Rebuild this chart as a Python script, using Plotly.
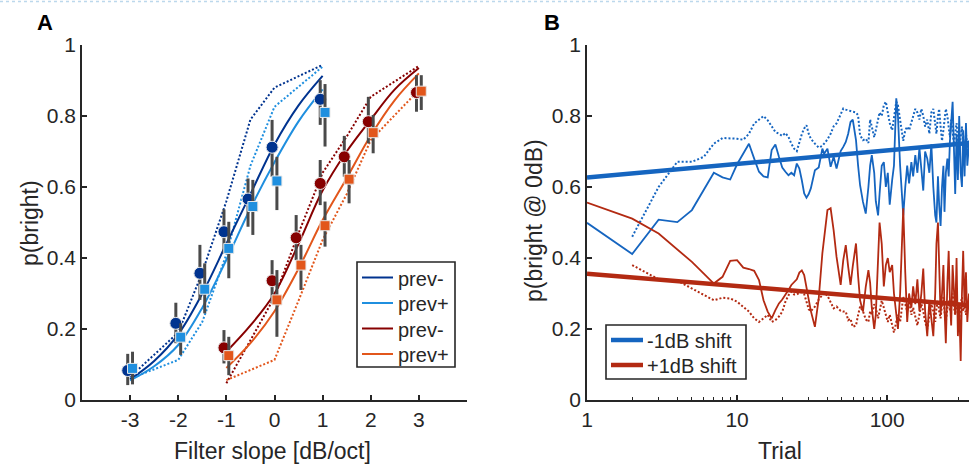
import plotly.graph_objects as go

# ---------------- Panel A data ----------------
slope_blue = [-3, -2, -1.5, -1, -0.5, 0, 1]
slope_red = [-1, 0, 0.5, 1, 1.5, 2, 3]

# observed proportions (markers) with error-bar limits
blue_prevm = [0.083, 0.216, 0.357, 0.474, 0.566, 0.712, 0.847]
blue_prevm_lo = [0.042, 0.160, 0.282, 0.413, 0.488, 0.629, 0.775]
blue_prevm_hi = [0.130, 0.274, 0.437, 0.537, 0.624, 0.789, 0.901]
blue_prevp = [0.089, 0.177, 0.312, 0.427, 0.545, 0.617, 0.810]
blue_prevp_lo = [0.044, 0.127, 0.244, 0.343, 0.465, 0.535, 0.714]
blue_prevp_hi = [0.136, 0.216, 0.385, 0.502, 0.620, 0.685, 0.890]
red_prevm = [0.147, 0.336, 0.457, 0.610, 0.685, 0.784, 0.866]
red_prevm_lo = [0.103, 0.272, 0.394, 0.549, 0.629, 0.723, 0.812]
red_prevm_hi = [0.197, 0.394, 0.521, 0.676, 0.744, 0.854, 0.915]
red_prevp = [0.125, 0.282, 0.380, 0.491, 0.622, 0.753, 0.870]
red_prevp_lo = [0.070, 0.178, 0.310, 0.432, 0.554, 0.695, 0.817]
red_prevp_hi = [0.178, 0.366, 0.437, 0.559, 0.676, 0.803, 0.915]

# fitted curves (solid)
fit_x_blue = [-3, -2.5, -2, -1.5, -1, -0.5, 0, 0.5, 1]
fit_blue_prevm = [0.058, 0.110, 0.185, 0.300, 0.440, 0.580, 0.720, 0.830, 0.913]
fit_blue_prevp = [0.055, 0.095, 0.155, 0.260, 0.395, 0.540, 0.670, 0.785, 0.875]
fit_x_red = [-1, -0.5, 0, 0.5, 1, 1.5, 2, 2.5, 3]
fit_red_prevm = [0.136, 0.210, 0.300, 0.440, 0.590, 0.700, 0.790, 0.875, 0.935]
fit_red_prevp = [0.090, 0.160, 0.250, 0.370, 0.507, 0.625, 0.745, 0.845, 0.920]

# model predictions (dotted)
pred_blue_prevm = [0.065, 0.190, 0.360, 0.560, 0.790, 0.880, 0.944]
pred_blue_prevp = [0.060, 0.113, 0.220, 0.410, 0.660, 0.826, 0.939]
pred_red_prevm = [0.047, 0.290, 0.470, 0.640, 0.742, 0.854, 0.941]
pred_red_prevp = [0.056, 0.113, 0.280, 0.451, 0.580, 0.732, 0.873]

legend_a_labels = ['prev-', 'prev+', 'prev-', 'prev+']

# ---------------- Panel B data ----------------
trial = (list(range(1, 20)) +
         [20, 21, 22, 23, 24, 25, 26, 27, 28, 29, 30, 31, 33, 35, 37, 38, 40, 42, 44, 46,
          49, 51, 53, 55, 57, 59, 62, 64, 66, 69, 72, 75] +
         [77, 79, 82, 84, 87, 89, 92, 95, 98, 101, 104, 108, 111, 115, 118, 122, 125, 128,
          132, 136, 140, 145, 149, 154, 159, 164, 169, 174, 179, 185, 191, 197, 203, 209,
          213, 218, 222, 227, 232, 237, 241, 246, 252, 257, 262, 267, 273, 279, 284, 290,
          296, 302, 309, 315, 321, 328, 335, 342, 351])

minus_obs = ([0.499, 0.411, 0.508, 0.501, 0.535, 0.591, 0.640, 0.627, 0.621, 0.664,
              0.694, 0.722, 0.680, 0.643, 0.630, 0.627, 0.704, 0.720, 0.685] +
             [0.655, 0.643, 0.633, 0.640, 0.633, 0.666, 0.652, 0.619, 0.582, 0.570, 0.580,
              0.596, 0.647, 0.655, 0.708, 0.694, 0.708, 0.657, 0.685, 0.652, 0.701, 0.713,
              0.727, 0.750, 0.783, 0.790, 0.732, 0.661, 0.605, 0.558, 0.525, 0.600] +
             [0.66, 0.69, 0.64, 0.56, 0.52, 0.58, 0.66, 0.67, 0.60, 0.64, 0.55, 0.62, 0.66,
              0.85, 0.80, 0.66, 0.59, 0.52, 0.60, 0.66, 0.61, 0.67, 0.63, 0.69, 0.64, 0.71,
              0.65, 0.59, 0.70, 0.68, 0.64, 0.72, 0.60, 0.52, 0.50, 0.63, 0.55, 0.49, 0.60,
              0.66, 0.53, 0.64, 0.68, 0.63, 0.73, 0.78, 0.84, 0.70, 0.58, 0.75, 0.62, 0.80,
              0.64, 0.60, 0.76, 0.63, 0.78, 0.66, 0.72])
minus_model = ([None, 0.46, 0.60, 0.671, 0.671, 0.685, 0.722, 0.738, 0.738, 0.736,
                0.733, 0.750, 0.779, 0.790, 0.800, 0.788, 0.769, 0.755, 0.750] +
               [0.744, 0.752, 0.741, 0.722, 0.708, 0.701, 0.727, 0.749, 0.765, 0.774, 0.750,
                0.736, 0.722, 0.711, 0.716, 0.722, 0.734, 0.750, 0.771, 0.779, 0.802, 0.821,
                0.818, 0.815, 0.814, 0.812, 0.810, 0.802, 0.746, 0.732, 0.736, 0.724] +
               [0.79, 0.77, 0.74, 0.76, 0.79, 0.81, 0.80, 0.83, 0.84, 0.81, 0.78, 0.76, 0.80,
                0.84, 0.83, 0.79, 0.75, 0.73, 0.76, 0.77, 0.76, 0.78, 0.80, 0.82, 0.81, 0.79,
                0.82, 0.80, 0.77, 0.79, 0.75, 0.81, 0.82, 0.78, 0.75, 0.80, 0.82, 0.77, 0.73,
                0.76, 0.79, 0.82, 0.80, 0.76, 0.74, 0.79, 0.76, 0.72, 0.75, 0.78, 0.73, 0.70,
                0.74, 0.77, 0.72, 0.69, 0.75, 0.71, 0.73])
plus_obs = ([0.556, 0.511, 0.469, 0.425, 0.389, 0.356, 0.328, 0.347, 0.392, 0.394,
             0.373, 0.369, 0.364, 0.338, 0.281, 0.249, 0.230, 0.253, 0.272] +
            [0.283, 0.296, 0.310, 0.324, 0.331, 0.340, 0.359, 0.365, 0.352, 0.319, 0.280,
             0.251, 0.206, 0.286, 0.413, 0.460, 0.535, 0.540, 0.478, 0.403, 0.324, 0.394,
             0.436, 0.375, 0.324, 0.377, 0.441, 0.350, 0.281, 0.249, 0.319, 0.366] +
            [0.33, 0.26, 0.20, 0.24, 0.40, 0.50, 0.44, 0.32, 0.38, 0.40, 0.36, 0.38, 0.30,
             0.23, 0.20, 0.30, 0.45, 0.54, 0.36, 0.22, 0.30, 0.26, 0.32, 0.27, 0.34, 0.25,
             0.30, 0.37, 0.25, 0.18, 0.28, 0.22, 0.18, 0.30, 0.44, 0.50, 0.36, 0.24, 0.30,
             0.38, 0.26, 0.16, 0.33, 0.42, 0.28, 0.21, 0.38, 0.31, 0.24, 0.40, 0.18, 0.27,
             0.11, 0.30, 0.42, 0.26, 0.36, 0.22, 0.30])
plus_model = ([None, 0.38, 0.34, 0.336, 0.314, 0.295, 0.281, 0.288, 0.286, 0.277,
               0.263, 0.249, 0.230, 0.220, 0.230, 0.240, 0.220, 0.225, 0.235] +
              [0.249, 0.277, 0.295, 0.305, 0.297, 0.297, 0.302, 0.304, 0.298, 0.277, 0.256,
               0.250, 0.263, 0.283, 0.295, 0.302, 0.294, 0.274, 0.258, 0.263, 0.251, 0.249,
               0.249, 0.225, 0.229, 0.206, 0.210, 0.239, 0.263, 0.250, 0.227, 0.220] +
              [0.25, 0.24, 0.27, 0.26, 0.23, 0.25, 0.28, 0.26, 0.24, 0.22, 0.24, 0.21, 0.19,
               0.22, 0.24, 0.22, 0.26, 0.29, 0.27, 0.25, 0.28, 0.24, 0.26, 0.23, 0.21, 0.24,
               0.27, 0.25, 0.22, 0.20, 0.24, 0.27, 0.25, 0.22, 0.26, 0.28, 0.25, 0.23, 0.27,
               0.29, 0.25, 0.22, 0.26, 0.28, 0.25, 0.27, 0.30, 0.26, 0.24, 0.28, 0.26, 0.23,
               0.27, 0.29, 0.25, 0.27, 0.24, 0.28, 0.26])

trend_trials = [1, 351]
trend_minus = [0.627, 0.724]
trend_plus = [0.356, 0.267]
legend_b_labels = ['-1dB shift', '+1dB shift']

# ---------------- styles ----------------
DB, LB, DR, OR = '#00338f', '#1f8fdf', '#870000', '#e2561b'
BB, BR = '#1565c0', '#b32a12'
AX = '#262626'
FONT = 'Liberation Sans, Arial, Helvetica, sans-serif'
W, H = 969, 464
TICK_FS, TITLE_FS, LEG_FS = 21, 23, 20

fig = go.Figure()

def dotted(x, y, c, xa='x', ya='y'):
    fig.add_trace(go.Scatter(x=x, y=y, mode='lines', xaxis=xa, yaxis=ya,
                             line=dict(color=c, width=2, dash='2px,2px'),
                             showlegend=False, hoverinfo='skip'))

# Panel A: dotted predictions
dotted(slope_blue, pred_blue_prevm, DB)
dotted(slope_blue, pred_blue_prevp, LB)
dotted(slope_red, pred_red_prevm, DR)
dotted(slope_red, pred_red_prevp, OR)

# Panel A: solid fits
for xs, ys, c, nm in [(fit_x_blue, fit_blue_prevm, DB, legend_a_labels[0]),
                      (fit_x_blue, fit_blue_prevp, LB, legend_a_labels[1]),
                      (fit_x_red, fit_red_prevm, DR, legend_a_labels[2]),
                      (fit_x_red, fit_red_prevp, OR, legend_a_labels[3])]:
    fig.add_trace(go.Scatter(x=xs, y=ys, mode='lines', name=nm, showlegend=False,
                             line=dict(color=c, width=2, shape='spline', smoothing=1.0)))

# Panel A: observed points with error bars
OFF = 0.05
for xs, ys, lo, hi, c, sym, sz, off in [
        (slope_blue, blue_prevm, blue_prevm_lo, blue_prevm_hi, DB, 'circle', 12, -OFF),
        (slope_blue, blue_prevp, blue_prevp_lo, blue_prevp_hi, LB, 'square', 10, OFF),
        (slope_red, red_prevm, red_prevm_lo, red_prevm_hi, DR, 'circle', 12, -OFF),
        (slope_red, red_prevp, red_prevp_lo, red_prevp_hi, OR, 'square', 10, OFF)]:
    fig.add_trace(go.Scatter(
        x=[v + off for v in xs], y=ys, mode='markers', showlegend=False,
        marker=dict(symbol=sym, size=sz, color=c, line=dict(color='#e8e8e8', width=1)),
        error_y=dict(type='data', symmetric=False,
                     array=[h - v for h, v in zip(hi, ys)],
                     arrayminus=[v - l for l, v in zip(lo, ys)],
                     thickness=3, width=0, color='#4a4a4a')))

# Panel B
dotted(trial, minus_model, BB, 'x2', 'y2')
dotted(trial, plus_model, BR, 'x2', 'y2')
fig.add_trace(go.Scatter(x=trial, y=minus_obs, mode='lines', xaxis='x2', yaxis='y2',
                         line=dict(color=BB, width=1.8), showlegend=False))
fig.add_trace(go.Scatter(x=trial, y=plus_obs, mode='lines', xaxis='x2', yaxis='y2',
                         line=dict(color=BR, width=1.8), showlegend=False))
fig.add_trace(go.Scatter(x=trend_trials, y=trend_minus, mode='lines', xaxis='x2', yaxis='y2',
                         name=legend_b_labels[0], showlegend=False,
                         line=dict(color=BB, width=4.5)))
fig.add_trace(go.Scatter(x=trend_trials, y=trend_plus, mode='lines', xaxis='x2', yaxis='y2',
                         name=legend_b_labels[1], showlegend=False,
                         line=dict(color=BR, width=4.5)))

axis_common = dict(showline=True, linecolor=AX, linewidth=1.6, ticks='inside', ticklen=5,
                   tickcolor=AX, tickwidth=1.6, showgrid=False, zeroline=False,
                   automargin=False,
                   tickfont=dict(family=FONT, size=TICK_FS, color=AX), mirror=False)

ydom = [1 - 400 / H, 1 - 45 / H]

def ann(text, x, y, size, angle=0, color=AX, xanchor='center'):
    return dict(text=text, x=x / W, y=1 - y / H, xref='paper', yref='paper',
                xanchor=xanchor, yanchor='middle', textangle=angle, showarrow=False,
                font=dict(size=size, family=FONT, color=color))

def pline(x0, x1, y, color, width, dash='solid'):
    return dict(type='line', xref='paper', yref='paper', x0=x0 / W, x1=x1 / W,
                y0=1 - y / H, y1=1 - y / H, line=dict(color=color, width=width, dash=dash))

def prect(x0, y0, x1, y1):
    return dict(type='rect', xref='paper', yref='paper', x0=x0 / W, x1=x1 / W,
                y0=1 - y1 / H, y1=1 - y0 / H, fillcolor='white',
                line=dict(color=AX, width=1.6), layer='above')

annotations = [
    ann('<b>A</b>', 45, 22, 22, color='black'),
    ann('<b>B</b>', 552, 22, 22, color='black'),
    ann('p(bright)', 30, 223, TITLE_FS, angle=-90),
    ann('p(bright @ 0dB)', 534, 221, TITLE_FS, angle=-90),
    ann('Filter slope [dB/oct]', 272, 451, TITLE_FS),
    ann('Trial', 780, 451, TITLE_FS),
]
shapes = [pline(0, W, 1.5, '#bcd8ec', 1.5, 'dot')]

# Legend A (drawn box)
shapes.append(prect(357, 262, 455, 367))
for i, (lab, c) in enumerate(zip(legend_a_labels, [DB, LB, DR, OR])):
    yy = 277.5 + i * 25.5
    s = pline(362, 393, yy, c, 2)
    s['layer'] = 'above'
    shapes.append(s)
    annotations.append(ann(lab, 396, yy + 1, LEG_FS, xanchor='left'))

# Legend B (drawn box)
shapes.append(prect(606, 325, 746, 379))
for i, (lab, c) in enumerate(zip(legend_b_labels, [BB, BR])):
    yy = 340 + i * 25
    s = pline(611, 643, yy, c, 4.5)
    s['layer'] = 'above'
    shapes.append(s)
    annotations.append(ann(lab, 645, yy + 1, LEG_FS, xanchor='left'))

fig.update_layout(
    template='none',
    width=W, height=H, autosize=False, showlegend=False,
    margin=dict(l=0, r=0, t=0, b=0, pad=0),
    paper_bgcolor='white', plot_bgcolor='white',
    font=dict(family=FONT, color=AX),
    xaxis=dict(domain=[82 / W, 467 / W], range=[-4, 4],
               tickvals=[-3, -2, -1, 0, 1, 2, 3],
               ticktext=['-3', '-2', '-1', '0', '1', '2', '3'], **axis_common),
    yaxis=dict(domain=ydom, range=[0, 1], tickvals=[0, 0.2, 0.4, 0.6, 0.8, 1],
               ticktext=['0', '0.2', '0.4', '0.6', '0.8', '1'], **axis_common),
    xaxis2=dict(domain=[587 / W, 1.0], type='log', range=[0, 2.5453], anchor='y2',
                tickvals=[1, 10, 100], ticktext=['1', '10', '100'],
                minor=dict(tickvals=[2, 3, 4, 5, 6, 7, 8, 9, 20, 30, 40, 50, 60, 70, 80, 90,
                                     200, 300],
                           ticks='inside', ticklen=3, tickcolor=AX, tickwidth=1.3),
                **axis_common),
    yaxis2=dict(domain=ydom, range=[0, 1], anchor='x2',
                tickvals=[0, 0.2, 0.4, 0.6, 0.8, 1],
                ticktext=['0', '0.2', '0.4', '0.6', '0.8', '1'], **axis_common),
    annotations=annotations,
    shapes=shapes,
)

fig.write_html("out.html", config={'displayModeBar': False},
               post_script="document.body.style.margin='0';document.body.style.overflow='hidden';")
